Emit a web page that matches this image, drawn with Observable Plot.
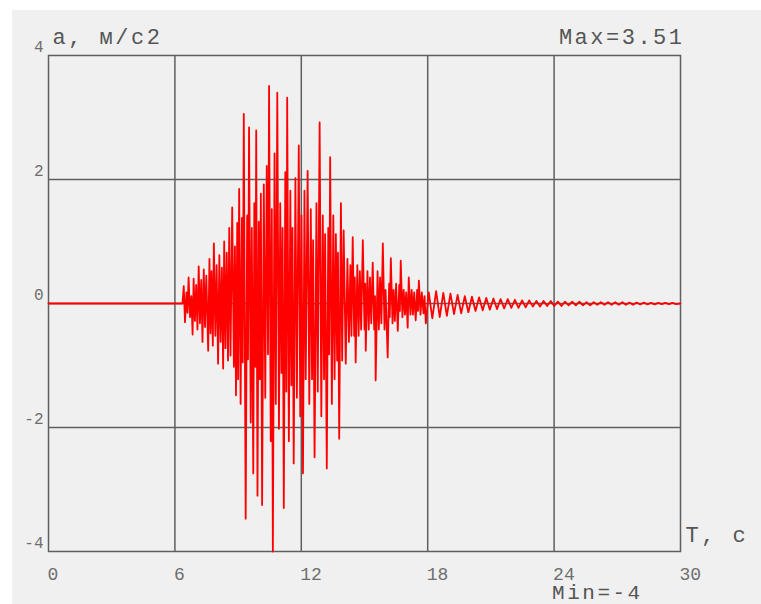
<!DOCTYPE html>
<html>
<head>
<meta charset="utf-8">
<script src="https://cdn.jsdelivr.net/npm/d3@7"></script>
<script src="https://cdn.jsdelivr.net/npm/@observablehq/plot@0.6"></script>
<style>
  html, body { margin: 0; padding: 0; background: #ffffff; }
  #wrap { position: relative; width: 761px; height: 604px; overflow: hidden; }
  #panel { position: absolute; left: 12px; top: 10px; right: 0; bottom: 0; background: #f0f0f0; }
  #chart { position: absolute; left: 0; top: 0; }
</style>
</head>
<body>
<div id="wrap"><div id="panel"></div><div id="chart"></div></div>
<script>
// Accelerogram: time T (s) vs ground acceleration a (m/s²), stored as [t, a] turning points.

const quietStart = [
  [0.00, 0.00], [6.36, 0.00]
];

const strongMotion = [
  [6.42, 0.28], [6.48, -0.30], [6.55, 0.18], [6.60, -0.15], [6.65, 0.42], [6.72, -0.22],
  [6.78, 0.12], [6.84, -0.50], [6.89, 0.40], [6.95, -0.28], [7.01, 0.30], [7.07, -0.42],
  [7.13, 0.60], [7.19, -0.32], [7.25, 0.38], [7.31, -0.62], [7.37, 0.55], [7.43, -0.38],
  [7.49, 0.45], [7.58, -0.76], [7.64, 0.72], [7.69, -0.48], [7.74, 0.52], [7.80, -0.68],
  [7.85, 0.97], [7.92, -0.52], [7.98, 0.62], [8.05, -0.97], [8.11, 0.78], [8.17, -0.62],
  [8.23, 0.58], [8.29, -1.05], [8.34, 1.00], [8.40, -0.72], [8.46, 0.82], [8.52, -0.92],
  [8.58, 1.22], [8.64, -0.84], [8.72, 1.55], [8.80, -1.02], [8.85, 0.92], [8.90, -1.48],
  [8.96, 1.30], [9.00, -1.22], [9.05, 1.85], [9.12, -1.62], [9.18, 1.38], [9.22, -0.95],
  [9.27, 3.06], [9.36, -3.47], [9.43, 1.42], [9.47, -0.90], [9.52, 2.84], [9.60, -1.92],
  [9.65, 1.22], [9.72, -2.74], [9.77, 1.62], [9.82, -1.02], [9.86, 2.79], [9.92, -3.10],
  [9.98, 1.32], [10.03, -1.22], [10.08, 1.77], [10.14, -3.25], [10.22, 1.92], [10.29, -1.52],
  [10.36, 2.22], [10.42, -0.82], [10.47, 3.51], [10.55, -2.22], [10.60, 1.52], [10.65, -4.00],
  [10.73, 2.42], [10.79, -1.62], [10.86, 3.40], [10.94, -2.02], [11.00, 1.62], [11.06, -1.12],
  [11.11, 1.22], [11.17, -3.30], [11.24, 2.12], [11.29, -1.42], [11.33, 3.32], [11.41, -2.22],
  [11.48, 1.82], [11.53, -1.32], [11.58, 1.22], [11.64, -2.58], [11.72, 2.02], [11.79, -1.52],
  [11.88, 2.55], [11.95, -1.82], [12.01, 1.42], [12.08, -2.74], [12.15, 1.82], [12.21, -1.22],
  [12.30, 2.14], [12.38, -1.62], [12.45, 1.52], [12.51, -1.22], [12.56, 1.02], [12.63, -2.48],
  [12.72, 1.62], [12.78, -1.42], [12.87, 2.92], [12.95, -1.82], [13.02, 1.42], [13.08, -1.22],
  [13.13, 1.12], [13.21, -2.66], [13.28, 1.22], [13.32, -0.82], [13.37, 2.36], [13.45, -1.62],
  [13.52, 1.42], [13.58, -1.22], [13.64, 1.12], [13.70, -0.92], [13.74, 0.82], [13.80, -2.18],
  [13.88, 1.62], [13.94, -0.92], [14.01, 1.18], [14.11, -0.97], [14.19, 0.72], [14.26, -0.62],
  [14.33, 0.62], [14.38, -0.52], [14.44, 1.07], [14.51, -0.52], [14.54, 0.42], [14.58, -0.95],
  [14.66, 0.62], [14.72, -0.52], [14.78, 0.52], [14.84, -0.42], [14.92, 1.02], [15.00, -0.42],
  [15.03, 0.32], [15.06, -0.76], [15.14, 0.52], [15.20, -0.42], [15.26, 0.42], [15.32, -0.32],
  [15.39, 0.66], [15.46, -0.42], [15.50, 0.12], [15.53, -1.24], [15.62, 0.52], [15.68, -0.42],
  [15.74, 0.42], [15.80, -0.32], [15.87, 0.97], [15.95, -0.42], [16.00, 0.22], [16.10, -0.87],
  [16.17, 0.32], [16.20, -0.22], [16.25, 0.73], [16.33, -0.32], [16.38, 0.22], [16.44, -0.28],
  [16.50, 0.32], [16.58, -0.44], [16.65, 0.30], [16.68, -0.12], [16.72, 0.69], [16.80, -0.22],
  [16.86, 0.22], [16.92, -0.18], [16.98, 0.18], [17.05, -0.39], [17.10, 0.42], [17.18, -0.18],
  [17.24, 0.22], [17.30, -0.18], [17.36, 0.18], [17.43, -0.27], [17.50, 0.22], [17.54, -0.12],
  [17.58, 0.37], [17.66, -0.18], [17.72, 0.18], [17.80, -0.16], [17.85, 0.12], [17.91, -0.32]
];

const coda = [
  [18.05, 0.18], [18.22, -0.24], [18.40, 0.20], [18.57, -0.22], [18.74, 0.17], [18.91, -0.20],
  [19.08, 0.16], [19.25, -0.17], [19.42, 0.14], [19.59, -0.16], [19.76, 0.12], [19.93, -0.14],
  [20.10, 0.11], [20.27, -0.12], [20.44, 0.10], [20.61, -0.11], [20.78, 0.09], [20.95, -0.10],
  [21.12, 0.08], [21.29, -0.09], [21.46, 0.07], [21.63, -0.08], [21.80, 0.07], [21.97, -0.07],
  [22.14, 0.06], [22.31, -0.07], [22.48, 0.05], [22.65, -0.06], [22.82, 0.05], [22.99, -0.05],
  [23.16, 0.04], [23.33, -0.05], [23.50, 0.04], [23.67, -0.04], [23.84, 0.04], [24.01, -0.04],
  [24.18, 0.03], [24.35, -0.04], [24.52, 0.03], [24.69, -0.03], [24.86, 0.03], [25.03, -0.03],
  [25.20, 0.03], [25.37, -0.03], [25.54, 0.02], [25.71, -0.03], [25.88, 0.02], [26.05, -0.02],
  [26.22, 0.02], [26.39, -0.02], [26.56, 0.02], [26.73, -0.02], [26.90, 0.02], [27.07, -0.02],
  [27.24, 0.02], [27.41, -0.02], [27.58, 0.015], [27.75, -0.02], [27.92, 0.015], [28.09, -0.015],
  [28.26, 0.015], [28.43, -0.015], [28.60, 0.01], [28.77, -0.015], [28.94, 0.01], [29.11, -0.01],
  [29.28, 0.01], [29.45, -0.01], [29.62, 0.01], [29.79, -0.01], [30.00, 0.00]
];

const xTicks = [0, 6, 12, 18, 24, 30];
const yTicks = [4, 2, 0, -2, -4];
const xGrid = [6, 12, 18, 24];
const yGrid = [2, 0, -2];

const yLabel = "a, м/с2";
const xLabel = "T, с";

const record = [...quietStart, ...strongMotion, ...coda].map(([t, a]) => ({t, a}));
const aMax = d3.max(record, d => d.a);
const aMin = d3.min(record, d => d.a);
const maxLabel = `Max=${aMax}`;
const minLabel = `Min=${aMin}`;
const captions = [yLabel, xLabel, maxLabel, minLabel];

const gridColor = "#5f5f5f";
const labelColor = "#555555";
const tickColor = "#6e6e6e";
const font = "Liberation Mono, DejaVu Sans Mono, monospace";

const chart = Plot.plot({
  width: 761,
  height: 604,
  marginLeft: 48,
  marginRight: 81,
  marginTop: 55,
  marginBottom: 53,
  style: {background: "transparent", fontFamily: font, overflow: "visible"},
  x: {domain: [0, 30], axis: null},
  y: {domain: [-4, 4], axis: null},
  marks: [
    Plot.gridX(xGrid, {stroke: gridColor, strokeOpacity: 1, strokeWidth: 1.5}),
    Plot.gridY(yGrid, {stroke: gridColor, strokeOpacity: 1, strokeWidth: 1.5}),
    Plot.frame({stroke: gridColor, strokeWidth: 1.5}),
    Plot.line(record, {x: "t", y: "a", stroke: "#ff0000", strokeWidth: 1.8}),
    Plot.text(xTicks, {
      x: d => d, text: d => String(d), frameAnchor: "bottom",
      textAnchor: "start", lineAnchor: "top", dx: -1, dy: 16,
      fontSize: 18, fill: tickColor
    }),
    Plot.text(yTicks, {
      y: d => d, text: d => String(d), frameAnchor: "left",
      textAnchor: "end", lineAnchor: "bottom", dx: -5, dy: -4,
      fontSize: 16, fill: tickColor
    }),
    Plot.text([yLabel], {
      text: d => d, frameAnchor: "top-left", textAnchor: "start", lineAnchor: "bottom",
      dx: 4, dy: -12, fontSize: 22, fill: labelColor
    }),
    Plot.text([maxLabel], {
      text: d => d, frameAnchor: "top-right", textAnchor: "end", lineAnchor: "bottom",
      dx: 4, dy: -12, fontSize: 22, fill: labelColor
    }),
    Plot.text([xLabel], {
      text: d => d, frameAnchor: "bottom-right", textAnchor: "start", lineAnchor: "bottom",
      dx: 5, dy: -10, fontSize: 22, fill: labelColor
    }),
    Plot.text([minLabel], {
      x: 24, text: d => d, frameAnchor: "bottom", textAnchor: "start", lineAnchor: "bottom",
      dx: -2, dy: 47, fontSize: 21, fill: labelColor
    })
  ]
});

// Wider monospace pitch for the captions.
d3.select(chart).selectAll("text")
  .filter(function () { return captions.includes(this.textContent); })
  .attr("letter-spacing", "2.5px");
document.getElementById("chart").appendChild(chart);
</script>
</body>
</html>
